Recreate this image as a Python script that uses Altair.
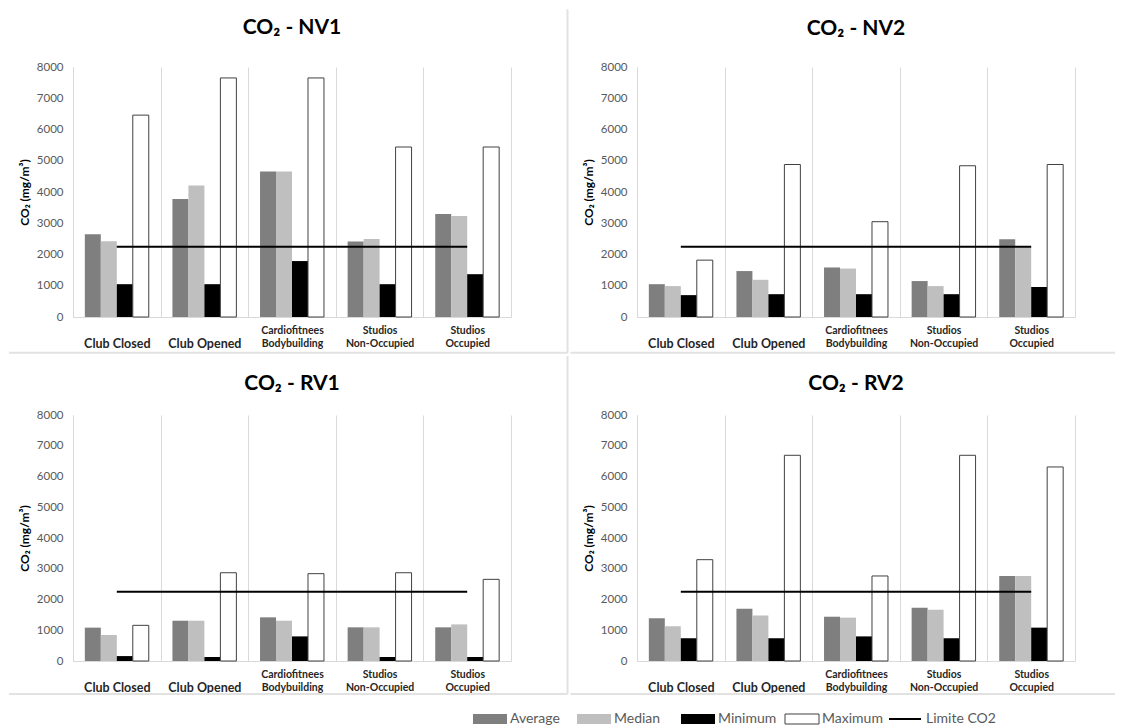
import altair as alt
import pandas as pd

FONT = "Lato"

categories = ["Club Closed", "Club Opened", "Cardiofitnees|Bodybuilding",
              "Studios|Non-Occupied", "Studios|Occupied"]
series = ["Average", "Median", "Minimum", "Maximum"]
series_colors = ["#7f7f7f", "#bfbfbf", "#000000", "#ffffff"]
limit_name = "Limite CO2"
limit_value = 2250

nv1_average = [2650, 3780, 4660, 2415, 3300]
nv1_median = [2425, 4210, 4660, 2500, 3230]
nv1_minimum = [1050, 1050, 1790, 1050, 1370]
nv1_maximum = [6460, 7650, 7650, 5440, 5440]

nv2_average = [1050, 1470, 1585, 1150, 2490]
nv2_median = [990, 1190, 1550, 990, 2230]
nv2_minimum = [700, 730, 730, 730, 960]
nv2_maximum = [1820, 4880, 3050, 4840, 4880]

rv1_average = [1085, 1310, 1420, 1095, 1095]
rv1_median = [845, 1310, 1310, 1095, 1190]
rv1_minimum = [160, 130, 800, 130, 130]
rv1_maximum = [1160, 2870, 2840, 2870, 2655]

rv2_average = [1390, 1700, 1440, 1735, 2765]
rv2_median = [1130, 1480, 1410, 1670, 2765]
rv2_minimum = [740, 740, 800, 740, 1085]
rv2_maximum = [3295, 6690, 2765, 6690, 6310]

y_ticks = [0, 1000, 2000, 3000, 4000, 5000, 6000, 7000, 8000]

color_scale = alt.Scale(domain=series, range=series_colors)
SEP = "#e2e2e2"


def separators(segments):
    """Light-grey panel border lines (decoration, pixels relative to the plot area)."""
    out = []
    for (x1, y1, x2, y2) in segments:
        out.append(
            alt.Chart(pd.DataFrame({"d": [0]})).mark_rule(color=SEP, strokeWidth=2).encode(
                x=alt.value(x1), x2=alt.value(x2), y=alt.value(y1), y2=alt.value(y2)
            )
        )
    return out


def panel(title, avg, med, mn, mx, height, title_offset, seps):
    rows = []
    for i, c in enumerate(categories):
        for s, vals in zip(series, [avg, med, mn, mx]):
            rows.append({"cat": c, "series": s, "value": vals[i]})
    df = pd.DataFrame(rows)
    lim = pd.DataFrame({"cat": categories, "value": [limit_value] * len(categories)})

    x = alt.X(
        "cat:N", sort=categories, title=None,
        scale=alt.Scale(paddingInner=0, paddingOuter=0),
        axis=alt.Axis(
            labelExpr="indexof(datum.label, '|') < 0 ? ['', datum.label] : split(datum.label, '|')",
            labelAngle=0, labelFont=FONT, labelFontWeight="bold",
            labelFontSize={"condition": {"test": "datum.value == 'Club Closed' || datum.value == 'Club Opened'",
                                         "value": 12.5}, "value": 10.5},
            labelColor="#262626", labelBaseline="middle", labelPadding=13,
            labelLineHeight=13, ticks=False, grid=True, gridColor="#d9d9d9",
            tickBand="extent", domainColor="#d9d9d9",
        ),
    )
    y = alt.Y(
        "value:Q", scale=alt.Scale(domain=[0, 8000]),
        axis=alt.Axis(
            values=y_ticks, tickCount=10, format="d", grid=False, ticks=False, labelOverlap=False,
            domainColor="#d9d9d9", labelColor="#595959", labelFont=FONT,
            labelFontSize=11.5, labelPadding=10, title="CO₂ (mg/m³)",
            titleFont=FONT, titleFontSize=12, titleFontWeight="bold",
            titlePadding=5, titleColor="black",
        ),
    )
    bars = alt.Chart(df).mark_bar(stroke="#404040").encode(
        x=x,
        xOffset=alt.XOffset("series:N", sort=series,
                            scale=alt.Scale(paddingInner=0, paddingOuter=0.74)),
        y=y,
        color=alt.Color("series:N", scale=color_scale, legend=None),
        strokeWidth=alt.condition("datum.series == 'Maximum'", alt.value(1), alt.value(0)),
    )
    line = alt.Chart(lim).mark_line(color="black", strokeWidth=2).encode(x=x, y=y)
    return alt.layer(*separators(seps), bars, line).properties(
        width=438, height=height,
        title=alt.TitleParams(title, font=FONT, fontSize=21, fontWeight="bold",
                              color="black", anchor="middle", offset=title_offset),
    )


p1 = panel("CO₂ - NV1", nv1_average, nv1_median, nv1_minimum, nv1_maximum, 250, -30,
           [(494.5, -57.7, 494.5, 286.3), (-64, 285.8, 494.5, 285.8)])
p2 = panel("CO₂ - NV2", nv2_average, nv2_median, nv2_minimum, nv2_maximum, 250, 22,
           [(-66.5, 285.8, 478, 285.8)])
p3 = panel("CO₂ - RV1", rv1_average, rv1_median, rv1_minimum, rv1_maximum, 246, -39,
           [(494.5, -59, 494.5, 279), (-64, 279, 494.5, 279)])
p4 = panel("CO₂ - RV2", rv2_average, rv2_median, rv2_minimum, rv2_maximum, 246, 15,
           [(-66.5, 279, 478, 279)])

# legend row
legend_names = series + [limit_name]
leg_df = pd.DataFrame({"series": legend_names})
lx = alt.X("series:N", sort=legend_names, axis=None,
           scale=alt.Scale(range=[400, 920], paddingInner=0, paddingOuter=0))

leg_swatch = alt.Chart(leg_df).transform_filter(
    alt.datum.series != limit_name
).mark_bar(size=34, xOffset=-35, stroke="#404040").encode(
    x=lx, y=alt.value(19), y2=alt.value(29),
    color=alt.Color("series:N", scale=color_scale, legend=None),
    strokeWidth=alt.condition("datum.series == 'Maximum'", alt.value(1), alt.value(0)),
)
leg_line = alt.Chart(leg_df).transform_filter(
    alt.datum.series == limit_name
).mark_bar(size=32, xOffset=-36, color="black").encode(
    x=lx, y=alt.value(23), y2=alt.value(25),
)
leg_text = alt.Chart(leg_df).mark_text(
    align="left", baseline="middle", dx=-15, fontSize=14, color="#595959", font=FONT
).encode(x=lx, y=alt.value(24), text="series:N")

legend = alt.layer(leg_swatch, leg_line, leg_text).properties(width=1000, height=30)

row1 = alt.hconcat(p1, p2, spacing=0)
row2 = alt.hconcat(p3, p4, spacing=0)

chart = alt.vconcat(row1, row2, legend, spacing=0).properties(
    background="white", padding=0,
).configure_view(stroke=None)

chart.save("out.html", embed_options={"renderer": "svg", "actions": False})
